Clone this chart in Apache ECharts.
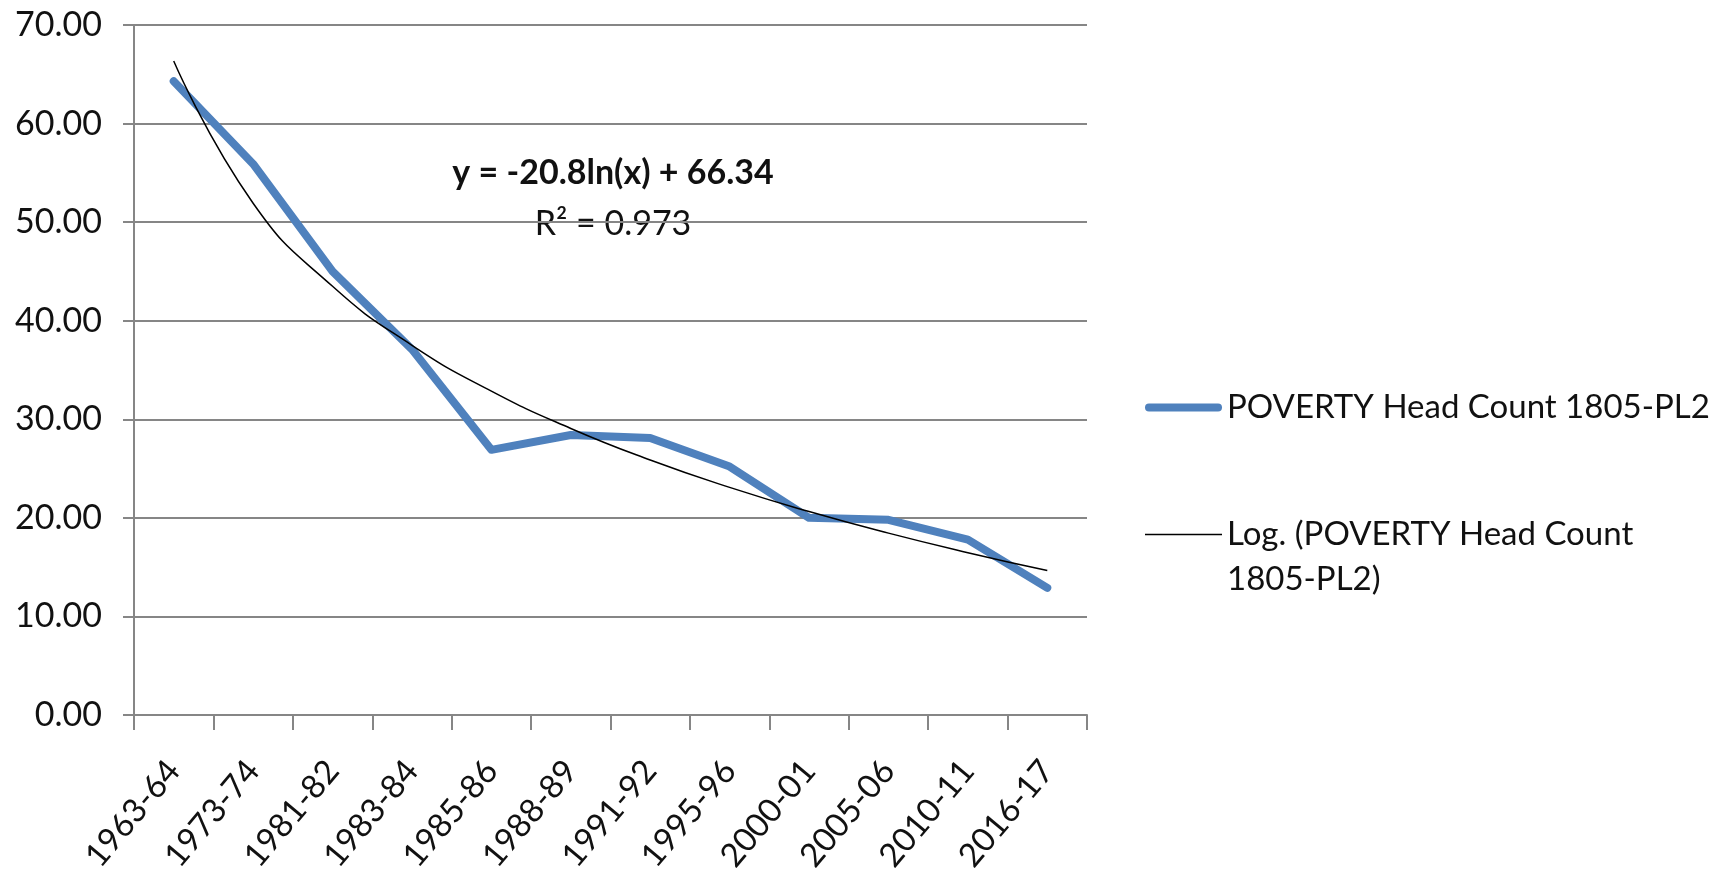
<!DOCTYPE html>
<html>
<head>
<meta charset="utf-8">
<script src="https://cdn.jsdelivr.net/npm/echarts@6/dist/echarts.min.js"></script>
<style>
html,body{margin:0;padding:0;background:#fff;}
#chart{width:1730px;height:882px;}
</style>
</head>
<body>
<div id="chart"></div>
<script>
const categories = ['1963-64','1973-74','1981-82','1983-84','1985-86','1988-89','1991-92','1995-96','2000-01','2005-06','2010-11','2016-17'];
const povertyValues = [64.3, 55.9, 45.0, 37.1, 26.9, 28.4, 28.1, 25.2, 20.0, 19.8, 17.8, 12.9];
const trendValues = [66.34, 51.92, 43.49, 37.51, 32.86, 29.07, 25.87, 23.09, 20.64, 18.45, 16.47, 14.65];
const yTicks = [0, 10, 20, 30, 40, 50, 60, 70];
const seriesNames = ['POVERTY Head Count 1805-PL2', 'Log. (POVERTY Head Count 1805-PL2)'];
const equationText = 'y = -20.8ln(x) + 66.34';
const rSquaredText = 'R² = 0.973';

const FONT = 'Lato';
const LH = 45;
const chart = echarts.init(document.getElementById('chart'));
chart.setOption({
  animation: false,
  backgroundColor: '#ffffff',
  grid: { left: 134, right: 643, top: 25, bottom: 167, containLabel: false },
  legend: {
    orient: 'vertical',
    left: 1140,
    top: 380,
    itemWidth: 77,
    itemHeight: 14,
    itemGap: 37,
    textStyle: { fontFamily: FONT, fontSize: 33, color: '#111', lineHeight: LH },
    formatter: function (name) {
      return name === seriesNames[1] ? ' \nLog. (POVERTY Head Count\n1805-PL2)' : name;
    },
    data: [
      { name: seriesNames[0], icon: 'path://M4,0 H73 A4,4 0 0 1 73,8 H4 A4,4 0 0 1 4,0 Z', itemStyle: { color: '#4F81BD' } },
      { name: seriesNames[1], icon: 'path://M0,0 H77 V1.6 H0 Z', itemStyle: { color: '#000000' } }
    ]
  },
  xAxis: {
    type: 'category',
    data: categories,
    boundaryGap: true,
    axisLine: { lineStyle: { color: '#868686', width: 2 } },
    axisTick: { show: true, length: 15, lineStyle: { color: '#868686', width: 2 } },
    axisLabel: { rotate: 50, fontFamily: FONT, fontSize: 33, color: '#111', margin: 50, interval: 0 },
    splitLine: { show: false }
  },
  yAxis: {
    type: 'value',
    min: yTicks[0],
    max: yTicks[yTicks.length - 1],
    interval: 10,
    axisLine: { show: true, lineStyle: { color: '#868686', width: 2 } },
    axisTick: { show: true, length: 11, lineStyle: { color: '#868686', width: 2 } },
    axisLabel: { fontFamily: FONT, fontSize: 34, color: '#111', margin: 32,
      formatter: function (v) { return v.toFixed(2); } },
    splitLine: { show: true, lineStyle: { color: '#868686', width: 2 } }
  },
  series: [
    {
      name: seriesNames[0],
      type: 'line',
      data: povertyValues,
      symbol: 'none',
      lineStyle: { color: '#4F81BD', width: 8, cap: 'round', join: 'round' },
      itemStyle: { color: '#4F81BD' },
      z: 2
    },
    {
      name: seriesNames[1],
      type: 'line',
      data: trendValues,
      symbol: 'none',
      smooth: 0.5,
      lineStyle: { color: '#000000', width: 1.5 },
      itemStyle: { color: '#000000' },
      z: 3
    }
  ],
  graphic: [
    { type: 'text', x: 613, y: 173, style: { text: equationText, fontFamily: FONT, fontSize: 34, fontWeight: 'bold', fill: '#111', align: 'center', verticalAlign: 'middle' } },
    { type: 'text', x: 613, y: 224, style: { text: rSquaredText, fontFamily: FONT, fontSize: 34, fill: '#111', align: 'center', verticalAlign: 'middle' } }
  ]
});
</script>
</body>
</html>
